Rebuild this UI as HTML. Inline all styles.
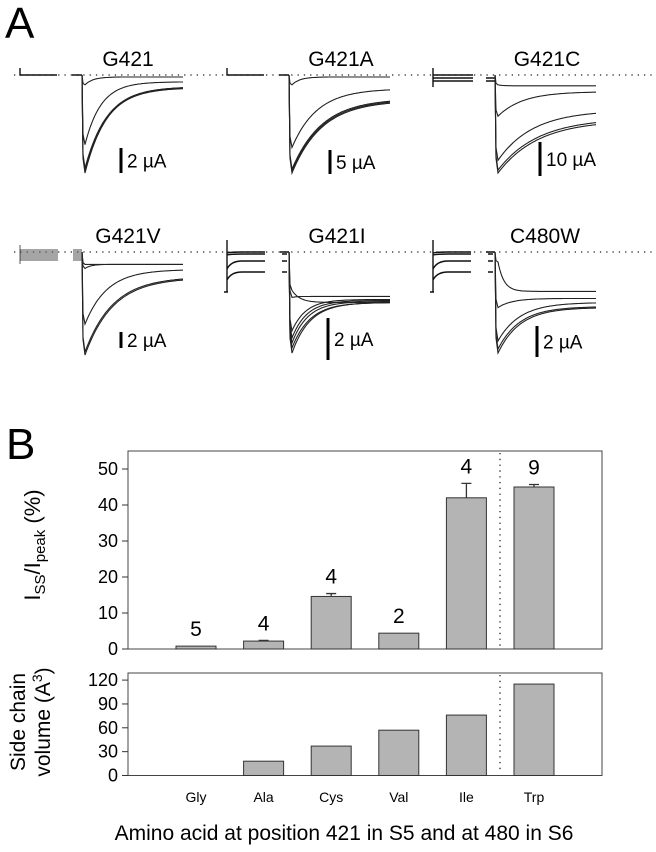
<!DOCTYPE html>
<html><head><meta charset="utf-8"><style>
html,body{margin:0;padding:0;background:#fff;}
svg{display:block;font-family:"Liberation Sans",Arial,sans-serif;}
</style></head><body>
<svg id="fig" width="656" height="852" viewBox="0 0 656 852">
<text x="5" y="38" font-size="44">A</text>
<text x="6" y="459" font-size="44">B</text>
<g id="panelA"></g>
<g id="chartTop"></g>
<g id="chartBot"></g>
<text x="40" y="545" font-size="22" text-anchor="middle" transform="rotate(-90 40 545)">I<tspan font-size="15" dy="5">SS</tspan><tspan dy="-5">/I</tspan><tspan font-size="15" dy="5">peak</tspan><tspan dy="-5"> (%)</tspan></text>
<text x="25" y="722" font-size="21" text-anchor="middle" transform="rotate(-90 25 722)">Side chain</text>
<text x="50" y="722" font-size="21" text-anchor="middle" transform="rotate(-90 50 722)">volume (A<tspan font-size="14" dy="-8">3</tspan><tspan dy="8">)</tspan></text>
<text x="344" y="840" font-size="21" text-anchor="middle">Amino acid at position 421 in S5 and at 480 in S6</text>
</svg>
<script>
var NS="http://www.w3.org/2000/svg";
// ---- Chart B data ----
var categories=["Gly","Ala","Cys","Val","Ile","Trp"];
var ratioValues=[0.8,2.2,14.6,4.4,42.0,45.0];
var ratioErrors=[0,0.2,0.8,0,4.0,0.7];
var nLabels=["5","4","4","2","4","9"];
var volumeValues=[0,18,37,57,76,115];
var ratioTicks=[0,10,20,30,40,50];
var volumeTicks=[0,30,60,90,120];

function mk(tag,attrs,parent){var e=document.createElementNS(NS,tag);for(var k in attrs)e.setAttribute(k,attrs[k]);parent.appendChild(e);return e;}
var frameL=128,frameR=602;
function xCenter(i){return 196+i*67.6;}
var barW=40;
function yTop(v){return 649-v*3.6;}
function yBot(v){return 775.5-v*0.795;}

function drawChart(g,vals,errs,yf,ticks,topY,botY,name){
  var f=mk('rect',{x:frameL,y:topY,width:frameR-frameL,height:botY-topY,fill:'none',stroke:'#444','stroke-width':1},g);
  
  
  for(var t=0;t<ticks.length;t++){
    var y=yf(ticks[t]);
    var tk=mk('line',{x1:frameL-6,x2:frameL,y1:y,y2:y,stroke:'#333','stroke-width':1},g);
    
    
    var tl=mk('text',{x:frameL-10,y:y+6,'font-size':18,'text-anchor':'end'},g);
    tl.textContent=ticks[t];
    
    
  }
  for(var i=0;i<vals.length;i++){
    var x=xCenter(i)-barW/2,y=yf(vals[i]);
    if(vals[i]>0){
      var b=mk('rect',{x:x,y:y,width:barW,height:yf(0)-y,fill:'#b4b4b4',stroke:'#333','stroke-width':1},g);
      
      
    }
    if(errs&&errs[i]>0){
      var ye=yf(vals[i]+errs[i]);
      var el=mk('path',{d:'M'+xCenter(i)+' '+y+'V'+ye+'M'+(xCenter(i)-5)+' '+ye+'H'+(xCenter(i)+5),stroke:'#333','stroke-width':1.3,fill:'none'},g);
      
      
    }
  }
  var dl=mk('line',{x1:500,x2:500,y1:topY+2,y2:botY-2,stroke:'#222','stroke-width':1.3,'stroke-dasharray':'1.3 4.5'},g);
  
  
}
var gt=document.getElementById('chartTop'),gb=document.getElementById('chartBot');
drawChart(gt,ratioValues,ratioErrors,yTop,ratioTicks,451,649,'ratio');
drawChart(gb,volumeValues,null,yBot,volumeTicks,673,775.5,'volume');
for(var i=0;i<categories.length;i++){
  var labelTop=yTop(ratioValues[i]+ratioErrors[i]);
  var n=mk('text',{x:xCenter(i),y:labelTop-10,'font-size':21,'text-anchor':'middle'},gt);
  n.textContent=nLabels[i];
  
  
  var c=mk('text',{x:xCenter(i),y:802,'font-size':14,'text-anchor':'middle'},gb);
  c.textContent=categories[i];
  
  
}

// ---- Panel A traces ----
var panelTitles=["G421","G421A","G421C","G421V","G421I","C480W"];
var scaleLabels=["2 µA","5 µA","10 µA","2 µA","2 µA","2 µA"];
// sweeps: [peak fraction, steady fraction, tau px]
var sweeps=[
 [[1,0.12,22],[0.97,0.13,22],[0.95,0.12,22],[0.71,0.07,16],[0.1,0.02,8]],
 [[1,0.26,30],[0.98,0.25,30],[0.96,0.24,30],[0.74,0.14,25],[0.1,0.02,8]],
 [[1,0.46,40],[0.97,0.44,40],[0.87,0.36,35],[0.42,0.17,25],[0.1,0.11,4]],
 [[1,0.25,28],[0.97,0.24,28],[0.7,0.17,22],[0.16,0.12,6],[0.12,0.12,4]],
 [[1,0.5,18],[0.95,0.5,18],[0.9,0.49,16],[0.85,0.48,15],[0.78,0.47,14],[0.45,0.44,4],[0.38,0.5,8]],
 [[1,0.55,22],[0.96,0.54,22],[0.88,0.5,22],[0.55,0.46,14],[0.1,0.39,6]]
];
var pa=document.getElementById('panelA');
var dxs=[0,207,413,0,207,413],rowY=[75,75,75,252,252,252],amps=[98,98,98,103,101,101];
var titleX=[128,341,547,128,337,545];
var barX=[121,330,540,121,328,537],barTop=[148,150,142,332,318,326],barBot=[173,174,176,348,360,357];
[75,252].forEach(function(y){
  var d=mk('line',{x1:14,x2:656,y1:y,y2:y,stroke:'#222','stroke-width':1.3,'stroke-dasharray':'1.3 5'},pa);
  
  
});
for(var p=0;p<6;p++){
  var g=mk('g',{},pa);
  
  
  var dx=dxs[p],y0=rowY[p],A=amps[p],x0=82+dx;
  var t=mk('text',{x:titleX[p],y:y0-9,'font-size':21,'text-anchor':'middle'},g);
  t.textContent=panelTitles[p];
  
  
  var pre='',sw1=1.4;
  if(p<2){pre='M'+(20+dx)+' '+(y0-7)+'V'+y0+'H'+(57+dx)+'M'+(72+dx)+' '+y0+'H'+x0;}
  else if(p==2){pre='M'+(20+dx)+' '+(y0-7)+'V'+(y0+12)+'M'+(20+dx)+' '+y0+'H'+(60+dx)+'M'+(20+dx)+' '+(y0+3)+'H'+(60+dx)+'M'+(20+dx)+' '+(y0+6)+'H'+(60+dx)+'M'+(73+dx)+' '+(y0+3)+'H'+x0+'M'+(73+dx)+' '+(y0+6)+'H'+x0;}
  else if(p==3){sw1=0.7;pre='M'+(20+dx)+' '+(y0-7)+'V'+(y0+12);for(var k=-2;k<=8;k+=2){pre+='M'+(20+dx)+' '+(y0+k)+'H'+(58+dx)+'M'+(73+dx)+' '+(y0+k)+'H'+x0;}}
  else{
    pre='M'+(20+dx)+' '+(y0-12)+'V'+(y0+40)+'M'+(17+dx)+' '+(y0+40)+'H'+(21+dx);
    [0,2,9,20].forEach(function(l){pre+='M'+(20+dx)+' '+(y0+l+(l>2?8:1))+'Q'+(24+dx)+' '+(y0+l)+' '+(35+dx)+' '+(y0+l)+'H'+(58+dx)+'M'+(75+dx)+' '+(y0+l)+'H'+(80+dx);});
    pre+='M'+(73+dx)+' '+y0+'H'+x0;
  }
  var pp=mk('path',{d:pre,stroke:'#111','stroke-width':sw1,fill:'none'},g);
  
  
  var sw=sweeps[p];
  for(var s=0;s<sw.length;s++){
    var pk=sw[s][0],ss=sw[s][1],tau=sw[s][2];
    var d='M'+x0+' '+y0+'L'+(x0+1)+' '+(y0+pk*A*0.85).toFixed(1);
    for(var xx=3;xx<=101;xx+=1){
      var v=ss+(pk-ss)*Math.exp(-(xx-3)/tau);
      d+='L'+(x0+xx)+' '+(y0+v*A).toFixed(1);
    }
    var tr=mk('path',{d:d,stroke:'#222','stroke-width':1.1,fill:'none'},g);
    
    
  }
  var sb=mk('line',{x1:barX[p],x2:barX[p],y1:barTop[p],y2:barBot[p],stroke:'#000','stroke-width':3},g);
  
  
  var sl=mk('text',{x:barX[p]+6,y:(barTop[p]+barBot[p])/2+7,'font-size':19},g);
  sl.textContent=scaleLabels[p];
  
  
}
</script>
</body></html>
